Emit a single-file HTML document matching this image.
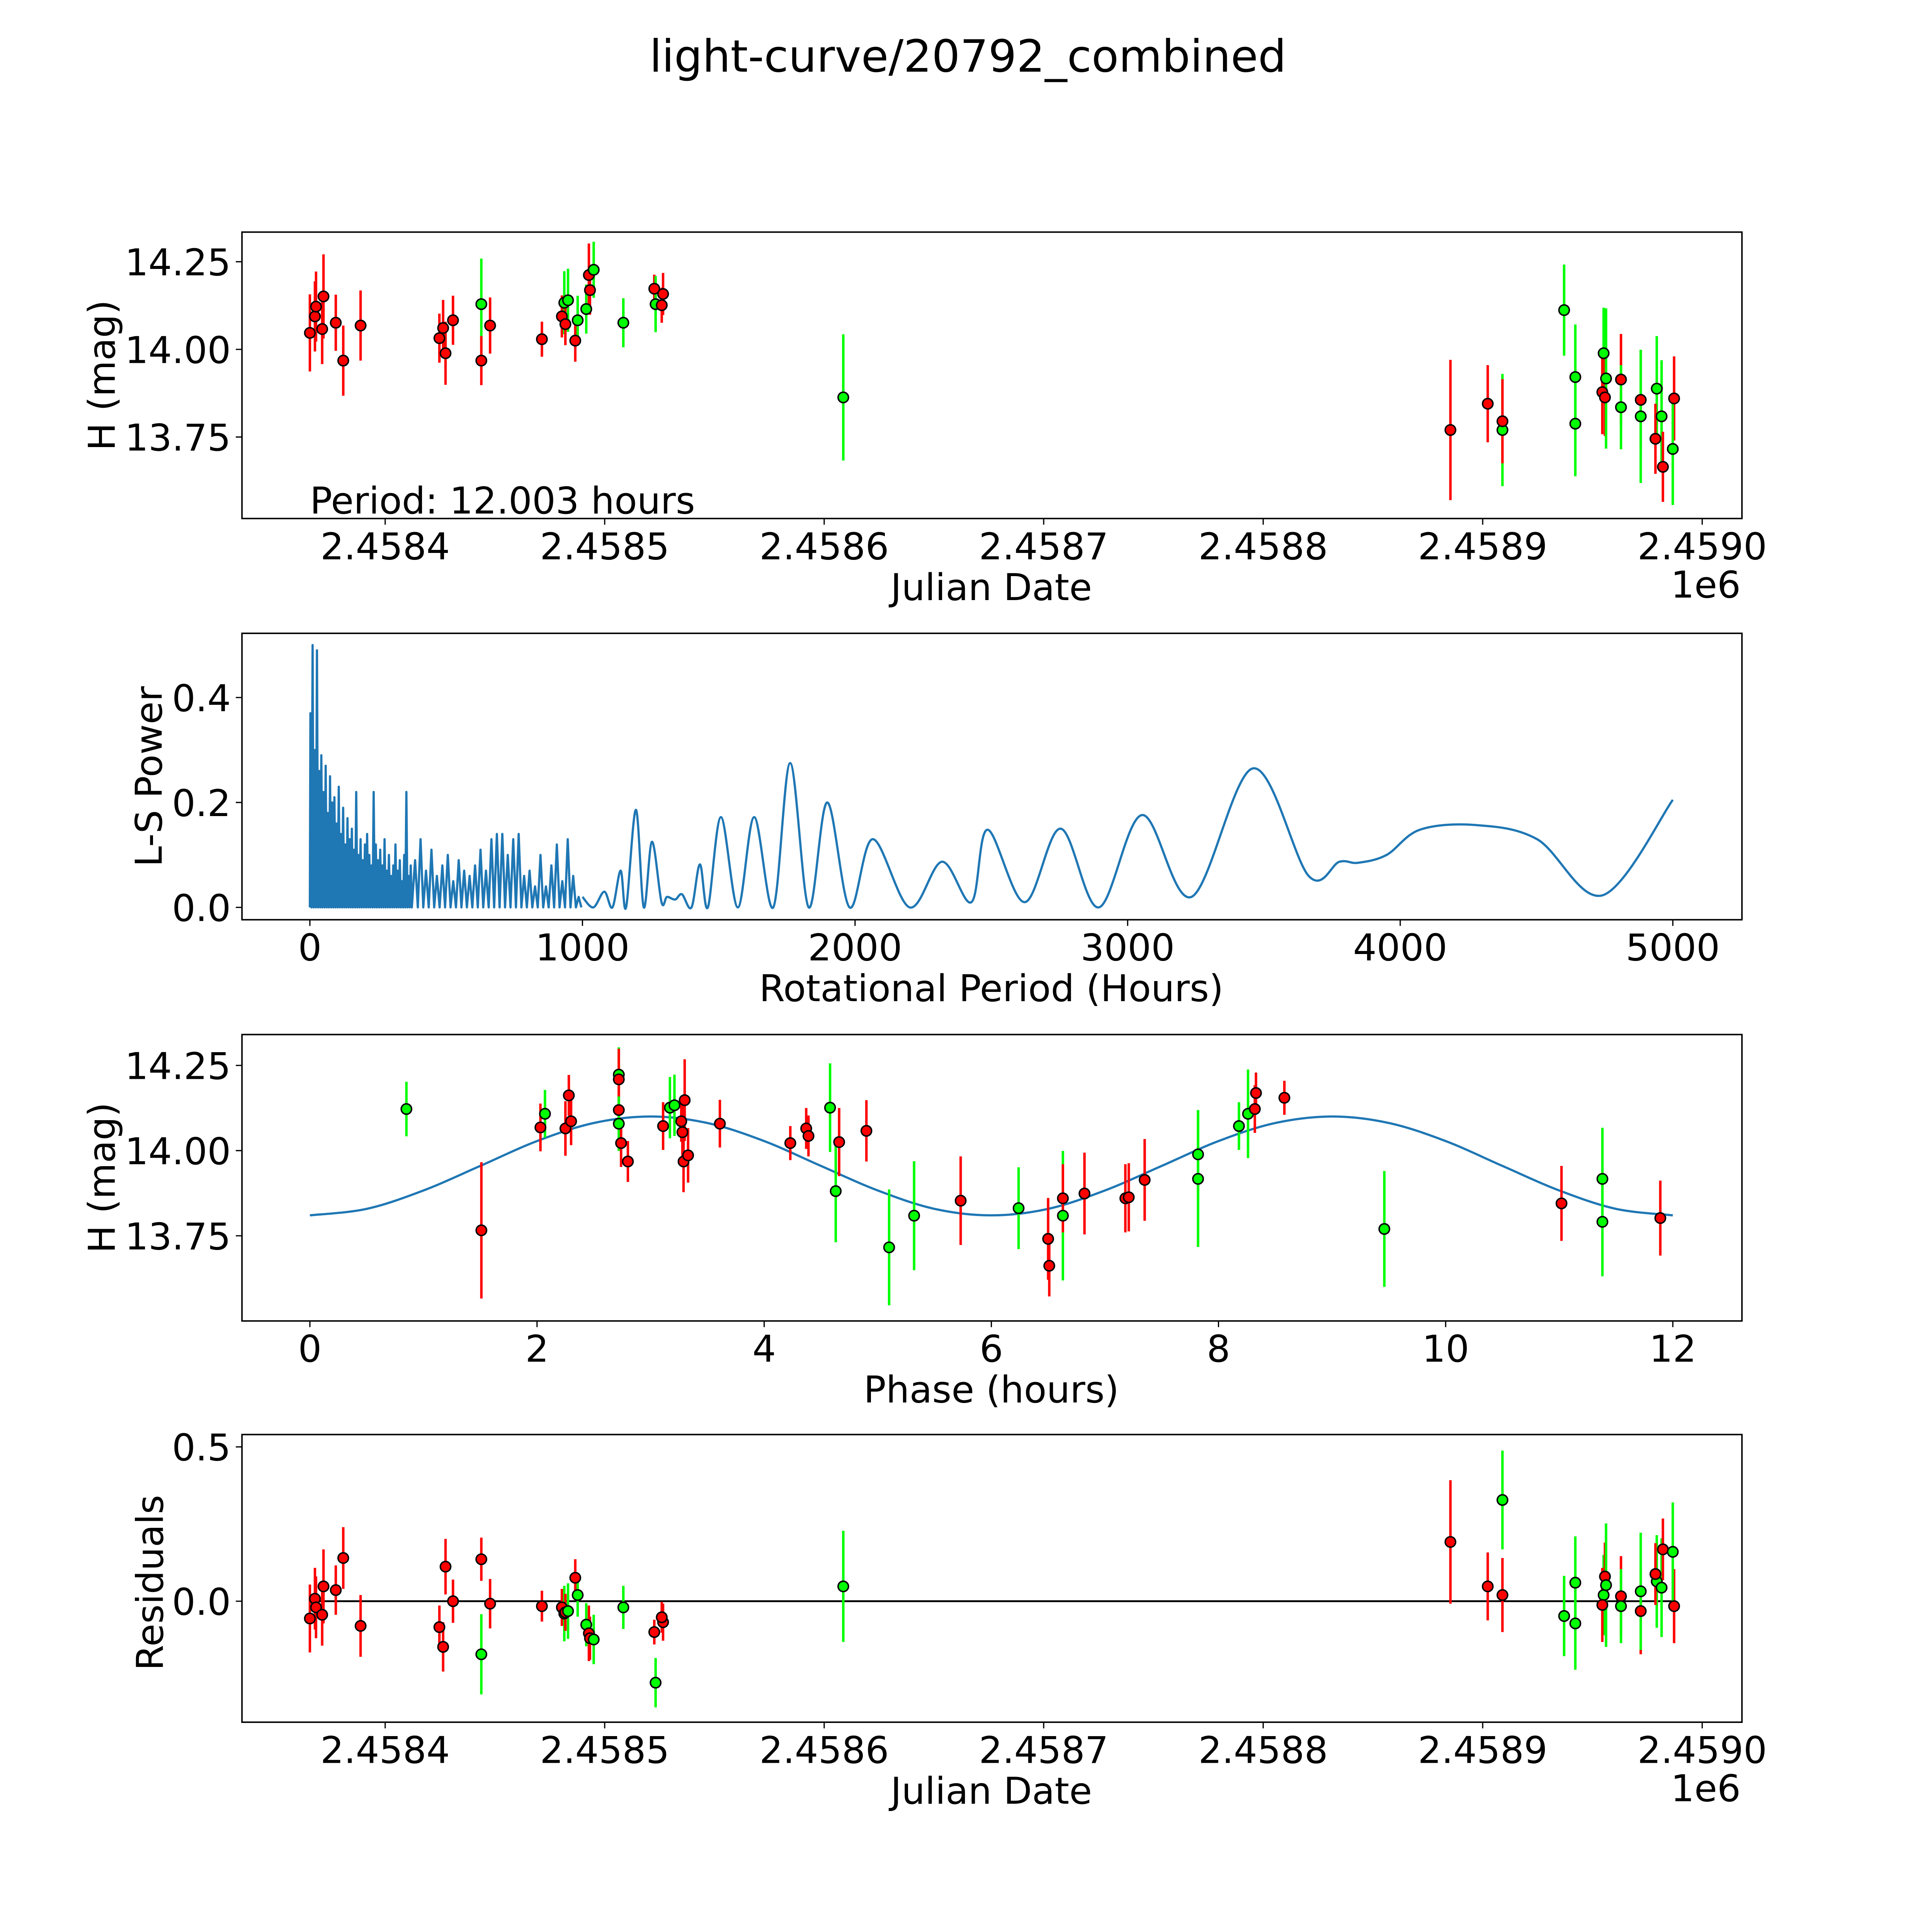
<!DOCTYPE html>
<html><head><meta charset="utf-8"><style>
html,body{margin:0;padding:0;background:#fff;width:5400px;height:5400px;overflow:hidden;}
svg{display:block;position:absolute;left:0;top:0;width:5400px;height:5400px;}
text{font-family:"DejaVu Sans","Liberation Sans",sans-serif;fill:#000;}
</style></head>
<body>
<svg width="5400" height="5400" viewBox="0 0 5400 5400" xmlns="http://www.w3.org/2000/svg">
<rect width="5400" height="5400" fill="#fff"/>
<g id="fig" transform="scale(3.195)">
<text x="784" y="58" font-size="36" text-anchor="middle">light-curve/20792_combined</text>
</g>
</svg>
<script>
// ---- Panel 1: light curve (days offset from 2458400) ----
const topJD=[-34.3,-32.0,-31.5,-28.1,-28.7,-22.5,-19.1,-11.2,24.7,26.4,27.5,30.9,43.8,43.8,47.8,71.4,80.5,81.6,82.1,83.3,86.6,87.7,91.6,92.8,93.3,95.0,108.5,122.6,123.2,126.6,126.0,208.7,485.3,502.3,509.0,509.0,537.1,542.2,542.2,555.1,554.5,555.7,556.2,563.0,563.0,572.0,572.0,579.3,578.7,581.5,582.1,587.2,586.6];
const topMag=[14.047,14.094,14.122,14.151,14.058,14.076,13.968,14.068,14.032,14.061,13.989,14.083,14.129,13.968,14.068,14.029,14.094,14.133,14.072,14.140,14.025,14.083,14.115,14.212,14.169,14.227,14.076,14.173,14.129,14.158,14.126,13.863,13.770,13.845,13.770,13.795,14.112,13.921,13.788,13.989,13.878,13.863,13.917,13.914,13.835,13.856,13.809,13.888,13.745,13.809,13.665,13.860,13.716];
const topErr=[0.11,0.1,0.1,0.12,0.1,0.08,0.1,0.1,0.07,0.08,0.09,0.07,0.13,0.07,0.08,0.05,0.06,0.09,0.06,0.09,0.06,0.07,0.07,0.09,0.07,0.08,0.07,0.04,0.08,0.06,0.05,0.18,0.2,0.11,0.16,0.12,0.13,0.15,0.15,0.13,0.12,0.11,0.2,0.13,0.12,0.14,0.19,0.15,0.1,0.16,0.1,0.12,0.16];
const topCol=['r','r','r','r','r','r','r','r','r','r','r','r','g','r','r','r','r','g','r','g','r','g','g','r','r','g','g','r','g','r','r','g','r','r','g','r','g','g','g','g','r','r','g','r','g','r','g','g','r','g','r','r','g'];
// ---- Panel 2: periodogram ----
const lsDense1=[0.37,0.50,0.30,0.49,0.26,0.29,0.22,0.27,0.18,0.25,0.20,0.21,0.16,0.23,0.14,0.19,0.12,0.17,0.13,0.15,0.11,0.22,0.10,0.13,0.09,0.12,0.14,0.10,0.08,0.22,0.12,0.09,0.11,0.08,0.13,0.07,0.10,0.06,0.08,0.12,0.07,0.09,0.05,0.10,0.22,0.06,0.08];
const lsDense2=[0.09,0.13,0.07,0.11,0.06,0.08,0.10,0.05,0.09,0.07,0.06,0.08,0.11,0.07,0.13,0.14,0.14,0.10,0.13,0.14,0.06,0.07,0.04,0.10,0.04,0.08,0.12,0.05,0.13,0.06,0.02];
const lsPeriod=[1000,1040,1080,1110,1140,1160,1196,1225,1255,1290,1310,1340,1365,1400,1431,1460,1508,1570,1630,1700,1762,1830,1898,1980,2065,2200,2319,2427,2486,2622,2754,2894,3053,3234,3460,3664,3777,3845,3950,4072,4275,4502,4742,5000];
const lsPower=[0.02,0.0,0.03,0.0,0.07,0.0,0.186,0.0,0.125,0.01,0.02,0.015,0.025,0.0,0.082,0.0,0.172,0.0,0.172,0.0,0.275,0.0,0.2,0.0,0.13,0.0,0.087,0.01,0.148,0.01,0.15,0.0,0.176,0.02,0.265,0.06,0.087,0.085,0.1,0.148,0.157,0.13,0.023,0.205];
// ---- Panel 3: folded ----
const phase=[0.85,1.51,2.03,2.07,2.25,2.28,2.30,2.72,2.72,2.72,2.72,2.74,2.80,3.11,3.17,3.21,3.27,3.28,3.30,3.29,3.33,3.61,4.23,4.37,4.39,4.58,4.66,4.63,4.90,5.10,5.32,5.73,6.24,6.50,6.51,6.63,6.63,6.82,7.18,7.21,7.35,7.82,7.82,8.18,8.26,8.32,8.33,8.58,9.46,11.02,11.38,11.38,11.89];
const phaseMag=[14.122,13.766,14.068,14.108,14.065,14.162,14.086,14.223,14.209,14.119,14.079,14.022,13.968,14.072,14.126,14.133,14.086,14.054,14.148,13.968,13.986,14.079,14.022,14.065,14.043,14.126,14.025,13.881,14.058,13.716,13.809,13.853,13.831,13.741,13.662,13.809,13.860,13.874,13.860,13.863,13.914,13.917,13.989,14.072,14.108,14.122,14.169,14.155,13.770,13.845,13.917,13.791,13.802];
const phaseCol=['g','r','r','g','r','r','r','g','r','r','g','r','r','r','g','g','r','r','r','r','r','r','r','r','r','g','r','g','r','g','g','r','g','r','r','g','r','r','r','r','r','g','g','g','g','r','r','r','g','r','g','g','r'];
const phaseErr=[0.08,0.2,0.07,0.07,0.08,0.06,0.07,0.08,0.09,0.06,0.08,0.07,0.06,0.07,0.09,0.09,0.06,0.08,0.12,0.09,0.08,0.07,0.05,0.06,0.06,0.13,0.1,0.15,0.09,0.17,0.16,0.13,0.12,0.12,0.09,0.19,0.1,0.12,0.1,0.1,0.12,0.2,0.13,0.07,0.13,0.07,0.06,0.05,0.17,0.11,0.15,0.16,0.11];
const fitPhase=[0,0.5,1,1.5,2,2.5,3,3.5,4,4.5,5,5.5,6,6.5,7,7.5,8,8.5,9,9.5,10,10.5,11,11.5,12];
const fitMag=[13.81,13.829,13.883,13.955,14.028,14.081,14.10,14.081,14.028,13.955,13.883,13.829,13.81,13.829,13.883,13.955,14.028,14.081,14.10,14.081,14.028,13.955,13.883,13.829,13.81];
// ---- Panel 4: residuals ----
const resJD=topJD;
const resVal=[-0.056,0.008,-0.02,0.048,-0.044,0.036,0.14,-0.08,-0.084,-0.148,0.112,0,-0.172,0.136,-0.008,-0.016,-0.02,-0.04,-0.036,-0.032,0.076,0.02,-0.076,-0.104,-0.12,-0.124,-0.02,-0.1,-0.264,-0.068,-0.052,0.048,0.192,0.048,0.328,0.02,-0.048,0.06,-0.072,0.02,-0.012,0.08,0.052,0.016,-0.016,-0.032,0.032,0.064,0.088,0.044,0.168,-0.016,0.16];
const resCol=topCol;
const resErr=topErr;

const jdTicks=[2.4584,2.4585,2.4586,2.4587,2.4588,2.4589,2.4590];
const jdTickLabels=['2.4584','2.4585','2.4586','2.4587','2.4588','2.4589','2.4590'];
const magTicks=[13.75,14.00,14.25];
const magTickLabels=['13.75','14.00','14.25'];
const lsXTicks=[0,1000,2000,3000,4000,5000];
const lsYTicks=[0,0.2,0.4];
const lsYTickLabels=['0.0','0.2','0.4'];
const phTicks=[0,2,4,6,8,10,12];
const resTicks=[0,0.5];
const resTickLabels=['0.0','0.5'];

const NS='http://www.w3.org/2000/svg';
const svg=document.getElementById('fig');
function mk(tag,attrs,parent){const e=document.createElementNS(NS,tag);for(const k in attrs)e.setAttribute(k,attrs[k]);(parent||svg).appendChild(e);return e;}
const COL={r:'#ff0000',g:'#00ff00'};
const FS=30;
function lin(d0,d1,p0,p1){return v=>p0+(v-d0)*(p1-p0)/(d1-d0);}
function catmull(pts){let d='M'+pts[0][0]+','+pts[0][1];for(let i=0;i<pts.length-1;i++){const p0=pts[i-1]||pts[i],p1=pts[i],p2=pts[i+1],p3=pts[i+2]||p2;d+=' C'+(p1[0]+(p2[0]-p0[0])/6)+','+(p1[1]+(p2[1]-p0[1])/6)+' '+(p2[0]-(p3[0]-p1[0])/6)+','+(p2[1]-(p3[1]-p1[1])/6)+' '+p2[0]+','+p2[1];}return d;}

function frame(name){
  const g=mk('g',{});
  
  
  return g;
}
function border(g,x0,y0,x1,y1){const r=mk('rect',{x:x0,y:y0,width:x1-x0,height:y1-y0,fill:'none',stroke:'#000','stroke-width':1.2},g);}
function xtick(g,x,y,label){mk('line',{x1:x,x2:x,y1:y,y2:y+5,stroke:'#000','stroke-width':1},g);const t=mk('text',{x:x,y:y+33,'font-size':FS,'text-anchor':'middle'},g);t.textContent=label;}
function ytick(g,x,y,label){mk('line',{x1:x,x2:x-5,y1:y,y2:y,stroke:'#000','stroke-width':1},g);const t=mk('text',{x:x-9,y:y+11,'font-size':FS,'text-anchor':'end'},g);t.textContent=label;}
function xlabel(g,x,y,s){const t=mk('text',{x:x,y:y,'font-size':FS,'text-anchor':'middle'},g);t.textContent=s;}
function ylabel(g,x,y,s){const t=mk('text',{x:x,y:y,'font-size':FS,'text-anchor':'middle',transform:'rotate(-90 '+x+' '+y+')'},g);t.textContent=s;}
function pointsErr(g,xs,ys,es,cs,sx,sy,pre){
  for(let i=0;i<xs.length;i++){
    const x=sx(xs[i]),c=COL[cs[i]];
    const l=mk('line',{x1:x,x2:x,y1:sy(ys[i]-es[i]),y2:sy(ys[i]+es[i]),stroke:c,'stroke-width':2},g);
    
    
  }
  for(let i=0;i<xs.length;i++){
    const c=mk('circle',{cx:sx(xs[i]),cy:sy(ys[i]),r:4.2,fill:COL[cs[i]],stroke:'#000','stroke-width':1.2},g);
    
    
  }
}
const sJD=lin(0,100,312,489.8); // days offset from 2458400
// Panel 1
{
  const g=frame('light-curve-panel');
  const sy=lin(14.00,14.25,283,212);
  pointsErr(g,topJD,topMag,topErr,topCol,sJD,sy,'observation');
  border(g,196,188,1411,420);
  jdTicks.forEach((v,i)=>xtick(g,sJD((v-2.4584)*1e6),420,jdTickLabels[i]));
  magTicks.forEach((v,i)=>ytick(g,196,sy(v),magTickLabels[i]));
  xlabel(g,803,486,'Julian Date');
  const e=mk('text',{x:1410,y:484,'font-size':FS,'text-anchor':'end'},g);e.textContent='1e6';
  ylabel(g,93,304,'H (mag)');
  const p=mk('text',{x:251,y:416,'font-size':FS},g);p.textContent='Period: 12.003 hours';
}
// Panel 2
{
  const g=frame('periodogram-panel');
  const sx=lin(0,5000,251,1355),sy=lin(0,0.4,735,565);
  let d='M'+sx(0)+','+sy(0);
  lsDense1.forEach((h,i)=>{const p=i*8+2;d+=' L'+sx(p)+','+sy(h)+' L'+sx(p+4)+','+sy(0);});
  lsDense2.forEach((h,i)=>{const p=380+i*20+6;d+=' L'+sx(p)+','+sy(h)+' L'+sx(p+10)+','+sy(0);});
  const dense=mk('path',{d:d,fill:'none',stroke:'#1f77b4','stroke-width':1.8,'stroke-linejoin':'round'},g);
  
  const pts=lsPeriod.map((p,i)=>[sx(p),sy(lsPower[i])]);
  const smooth=mk('path',{d:catmull(pts),fill:'none',stroke:'#1f77b4','stroke-width':1.8},g);
  
  border(g,196,513,1411,745);
  lsXTicks.forEach(v=>xtick(g,sx(v),745,String(v)));
  lsYTicks.forEach((v,i)=>ytick(g,196,sy(v),lsYTickLabels[i]));
  xlabel(g,803,811,'Rotational Period (Hours)');
  ylabel(g,131,629,'L-S Power');
}
// Panel 3
{
  const g=frame('phase-folded-panel');
  const sx=lin(0,12,251,1355),sy=lin(14.00,14.25,932,863);
  const fit=mk('path',{d:catmull(fitPhase.map((p,i)=>[sx(p),sy(fitMag[i])])),fill:'none',stroke:'#1f77b4','stroke-width':1.8},g);
  
  pointsErr(g,phase,phaseMag,phaseErr,phaseCol,sx,sy,'folded');
  border(g,196,838,1411,1070);
  phTicks.forEach(v=>xtick(g,sx(v),1070,String(v)));
  magTicks.forEach((v,i)=>ytick(g,196,sy(v),magTickLabels[i]));
  xlabel(g,803,1136,'Phase (hours)');
  ylabel(g,93,954,'H (mag)');
}
// Panel 4
{
  const g=frame('residuals-panel');
  const sy=lin(0,0.5,1297,1172);
  const z=mk('line',{x1:sJD(-34.3),x2:sJD(587.2),y1:sy(0),y2:sy(0),stroke:'#000','stroke-width':1.5},g);
  
  pointsErr(g,resJD,resVal,resErr,resCol,sJD,sy,'residual');
  border(g,196,1162,1411,1395);
  jdTicks.forEach((v,i)=>xtick(g,sJD((v-2.4584)*1e6),1395,jdTickLabels[i]));
  resTicks.forEach((v,i)=>ytick(g,196,sy(v),resTickLabels[i]));
  xlabel(g,803,1461,'Julian Date');
  const e=mk('text',{x:1410,y:1459,'font-size':FS,'text-anchor':'end'},g);e.textContent='1e6';
  ylabel(g,132,1282,'Residuals');
}
</script>
</body></html>
